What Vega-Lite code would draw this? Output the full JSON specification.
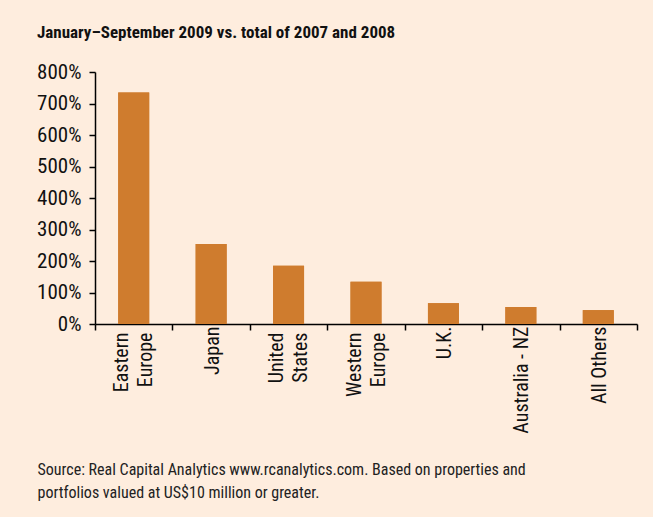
{
  "$schema": "https://vega.github.io/schema/vega-lite/v6.json",
  "width": 542,
  "height": 252,
  "autosize": {"type": "none"},
  "padding": {"left": 95, "top": 72, "right": 16, "bottom": 193},
  "background": "#FEEDDE",
  "title": {
    "text": "January–September 2009 vs. total of 2007 and 2008",
    "anchor": "start",
    "frame": "group",
    "dx": -58,
    "offset": 19,
    "font": "Liberation Sans Narrow, Roboto Condensed, DejaVu Sans Condensed, sans-serif",
    "fontSize": 17,
    "fontWeight": "bold",
    "color": "#111111"
  },
  "data": {
    "values": [
      {"region": "Eastern|Europe", "pct": 735},
      {"region": "Japan", "pct": 254},
      {"region": "United|States", "pct": 185},
      {"region": "Western|Europe", "pct": 134},
      {"region": "U.K.", "pct": 66},
      {"region": "Australia - NZ", "pct": 54},
      {"region": "All Others", "pct": 44}
    ]
  },
  "resolve": {"axis": {"x": "independent"}},
  "layer": [
    {
      "mark": {"type": "bar", "color": "#CF7C2E", "width": {"band": 0.4}},
      "encoding": {
        "x": {
          "field": "region",
          "type": "nominal",
          "sort": null,
          "scale": {"paddingInner": 0, "paddingOuter": 0},
          "axis": {
            "orient": "bottom",
            "labelExpr": "indexof(datum.label, '|') >= 0 ? split(datum.label, '|') : ''",
            "labelAngle": -90,
            "labelAlign": "right",
            "labelBaseline": "middle",
            "labelLineHeight": 24,
            "labelOffset": -12,
            "labelFontSize": 20,
            "labelPadding": 2,
            "labelColor": "#111111",
            "labelFont": "Liberation Sans Narrow, Roboto Condensed, DejaVu Sans Condensed, sans-serif",
            "labelOverlap": false,
            "tickBand": "extent",
            "tickSize": 6,
            "tickColor": "#000000",
            "domainColor": "#000000",
            "domainWidth": 1.5,
            "tickWidth": 1.5,
            "title": ["Source: Real Capital Analytics www.rcanalytics.com. Based on properties and", "portfolios valued at US$10 million or greater."],
            "titleAnchor": "start",
            "titleAlign": "left",
            "titleBaseline": "middle",
            "titleX": -58,
            "titleY": 145,
            "titleLineHeight": 23,
            "titleFontSize": 16,
            "titleFontWeight": "normal",
            "titleColor": "#222222",
            "titleFont": "Liberation Sans Narrow, Roboto Condensed, DejaVu Sans Condensed, sans-serif"
          }
        },
        "y": {
          "field": "pct",
          "type": "quantitative",
          "scale": {"domain": [0, 800], "nice": false},
          "axis": {
            "values": [0, 100, 200, 300, 400, 500, 600, 700, 800],
            "labelExpr": "datum.value + '%'",
            "labelFontSize": 21,
            "labelPadding": 8,
            "labelColor": "#111111",
            "labelFont": "Liberation Sans Narrow, Roboto Condensed, DejaVu Sans Condensed, sans-serif",
            "labelOverlap": false,
            "tickSize": 6,
            "tickColor": "#000000",
            "tickWidth": 1.5,
            "domainColor": "#000000",
            "domainWidth": 1.5,
            "grid": false,
            "title": null
          }
        }
      }
    },
    {
      "mark": {"type": "bar", "color": "#CF7C2E", "width": {"band": 0.4}},
      "encoding": {
        "x": {
          "field": "region",
          "type": "nominal",
          "sort": null,
          "axis": {
            "orient": "bottom",
            "labelExpr": "indexof(datum.label, '|') >= 0 ? '' : datum.label",
            "labelAngle": -90,
            "labelAlign": "right",
            "labelBaseline": "middle",
            "labelOffset": 1,
            "labelFontSize": 20,
            "labelPadding": 2,
            "labelColor": "#111111",
            "labelFont": "Liberation Sans Narrow, Roboto Condensed, DejaVu Sans Condensed, sans-serif",
            "labelOverlap": false,
            "tickBand": "extent",
            "ticks": false,
            "tickSize": 6,
            "domain": false,
            "title": null
          }
        },
        "y": {
          "field": "pct",
          "type": "quantitative",
          "axis": {
            "values": [0, 100, 200, 300, 400, 500, 600, 700, 800],
            "labelExpr": "datum.value + '%'",
            "labelFontSize": 21,
            "labelPadding": 8,
            "labelColor": "#111111",
            "labelFont": "Liberation Sans Narrow, Roboto Condensed, DejaVu Sans Condensed, sans-serif",
            "labelOverlap": false,
            "tickSize": 6,
            "tickColor": "#000000",
            "tickWidth": 1.5,
            "domainColor": "#000000",
            "domainWidth": 1.5,
            "grid": false,
            "title": null
          }
        }
      }
    }
  ],
  "config": {"view": {"stroke": null}}
}
